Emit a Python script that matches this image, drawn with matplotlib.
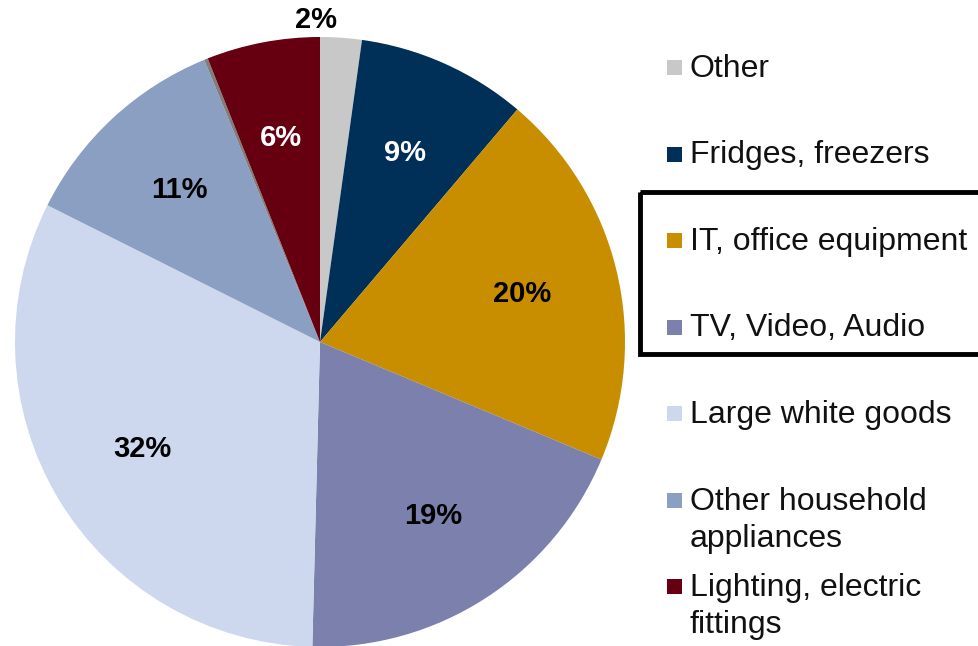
import matplotlib.pyplot as plt
import numpy as np
from matplotlib.patches import Rectangle

plt.rcParams['font.family'] = ['Liberation Sans', 'DejaVu Sans']

# Données (sens horaire depuis le haut)
categories = ["Other", "Fridges, freezers", "IT, office equipment", "TV, Video, Audio",
              "Large white goods", "Other household\nappliances", "", "Lighting, electric\nfittings"]
values = [2.2, 9.0, 20.1, 19.1, 32.0, 11.4, 0.2, 6.0]
pct_labels = ["2%", "9%", "20%", "19%", "32%", "11%", "", "6%"]
colors = ["#c8c8c8", "#003057", "#c88e00", "#7b80ac", "#cdd8ee", "#8a9fc2", "#7f7f7f", "#660010"]
text_colors = ["black", "white", "black", "black", "black", "black", "black", "white"]
in_legend = [True, True, True, True, True, True, False, True]

W, H = 979, 646
fig = plt.figure(figsize=(W / 100, H / 100), dpi=100)

# Camembert : centre (320, 342), rayon 305 px
cx, cy, r = 320, 342, 305
ax = fig.add_axes([(cx - r) / W, (H - cy - r) / H, 2 * r / W, 2 * r / H])
wedges, _ = ax.pie(values, colors=colors, startangle=90, counterclock=False,
                   radius=1, wedgeprops=dict(linewidth=0))
ax.set_xlim(-1, 1)
ax.set_ylim(-1, 1)
ax.set_aspect('equal')
ax.axis('off')

for w, lab, tc, v in zip(wedges, pct_labels, text_colors, values):
    if not lab:
        continue
    if v < 3:
        ang = np.deg2rad(w.theta2)
        rr = 1.055
    else:
        ang = np.deg2rad((w.theta1 + w.theta2) / 2)
        rr = 0.68
    ax.text(rr * np.cos(ang) - (0.012 if v < 3 else 0), rr * np.sin(ang), lab,
            ha='center', va='center', fontsize=21, fontweight='bold', color=tc, clip_on=False)

# Légende dessinée à la main (coordonnées pixels)
lax = fig.add_axes([0, 0, 1, 1])
lax.set_xlim(0, W)
lax.set_ylim(H, 0)
lax.axis('off')

baseline0, step, line_gap = 77, 86.5, 37
i = 0
for cat, col, show in zip(categories, colors, in_legend):
    if not show:
        continue
    base = baseline0 + i * step
    lax.add_patch(Rectangle((667, base - 17), 15, 15, facecolor=col, edgecolor='none'))
    for j, line in enumerate(cat.split("\n")):
        lax.text(690, base + j * line_gap, line, fontsize=23, va='baseline', ha='left', color='#111111')
    i += 1

# Cadre autour de IT / TV
lax.add_patch(Rectangle((640, 192), 360, 162, facecolor='none', edgecolor='black',
                        linewidth=3.5, clip_on=False))

fig.savefig("out.png", dpi=100)
